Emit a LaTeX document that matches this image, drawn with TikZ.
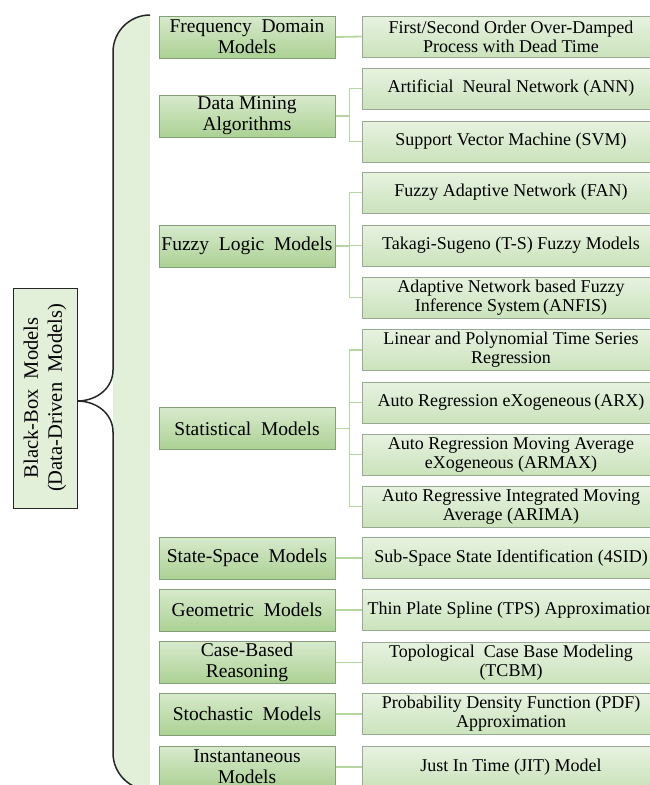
\documentclass[tikz,border=0pt]{standalone}
\usepackage{fontspec}
\setmainfont{Liberation Serif}
\usetikzlibrary{backgrounds}
\begin{document}
\begin{tikzpicture}[x=1pt,y=-1pt,
  catbox/.style={draw=catedge, line width=0.8pt, top color=cattop, bottom color=catbot,
    minimum width=176pt, minimum height=42pt, inner sep=0pt, align=center,
    font=\fontsize{19.5}{21}\selectfont},
  leafbox/.style={draw=leafedge, line width=0.8pt, top color=leaftop, bottom color=leafbot,
    minimum width=298pt, minimum height=41pt, inner sep=0pt, align=center,
    font=\fontsize{18}{19}\selectfont},
  rootbox/.style={draw=rootedge, line width=1pt, fill=bandfill,
    minimum width=220pt, minimum height=64pt, inner sep=0pt, align=center, rotate=90,
    font=\fontsize{20.5}{24}\selectfont},
  link/.style={draw=linkgreen, line width=1.8pt},
  bracepen/.style={draw=rootedge, line width=1.5pt}
]
\definecolor{cattop}{HTML}{D8EACD}
\definecolor{catbot}{HTML}{ABD193}
\definecolor{catedge}{HTML}{859F78}
\definecolor{leaftop}{HTML}{E7F2E0}
\definecolor{leafbot}{HTML}{CBE3BC}
\definecolor{leafedge}{HTML}{98AA92}
\definecolor{bandfill}{HTML}{E2EFD9}
\definecolor{rootedge}{HTML}{262626}
\definecolor{linkgreen}{HTML}{B5D6A0}

\useasboundingbox (0,0) rectangle (650,785);
\clip (0,0) rectangle (650,785);

% shaded band inside the brace
\fill[bandfill] (150,15) .. controls (129.6,15) and (113,31.6) .. (113,52)
  -- (113,753) .. controls (113,773.4) and (129.6,790) .. (150,790) -- cycle;

% curly brace
\draw[bracepen] (150,15) .. controls (129.6,15) and (113,31.6) .. (113,52)
  -- (113,370) .. controls (113,388) and (97,401) .. (77,401)
  .. controls (97,401) and (113,414) .. (113,432)
  -- (113,753) .. controls (113,773.4) and (129.6,790) .. (150,790);

% root
\node[rootbox] (root) at (45,398) {Black-Box~ Models\\(Data-Driven~ Models)};

% categories
\node[catbox] (freq) at (247,37)    {Frequency~ Domain\\Models};
\node[catbox] (dm)   at (247,116)   {Data Mining\\Algorithms};
\node[catbox] (fz)   at (247,246)   {Fuzzy~ Logic~ Models};
\node[catbox] (st)   at (247,428.5) {Statistical~ Models};
\node[catbox] (ss)   at (247,558)   {State-Space~ Models};
\node[catbox] (geo)  at (247,610)   {Geometric~ Models};
\node[catbox] (cbr)  at (247,662.5) {Case-Based\\Reasoning};
\node[catbox] (sto)  at (247,714)   {Stochastic~ Models};
\node[catbox] (ins)  at (247,767)   {Instantaneous\\Models};

% methods
\node[leafbox] (fo)    at (511,36.5)  {First/Second Order Over-Damped\\Process with Dead Time};
\node[leafbox] (ann)   at (511,88.5)  {Artificial~ Neural Network (ANN)};
\node[leafbox] (svm)   at (511,141.5) {Support Vector Machine (SVM)};
\node[leafbox] (fan)   at (511,192.5) {Fuzzy Adaptive Network (FAN)};
\node[leafbox] (ts)    at (511,245.5) {Takagi-Sugeno (T-S) Fuzzy Models};
\node[leafbox] (anfis) at (511,297.5) {Adaptive Network based Fuzzy\\Inference System\,(ANFIS)};
\node[leafbox] (lin)   at (511,350)   {Linear and Polynomial Time Series\\Regression};
\node[leafbox] (arx)   at (511,402.5) {Auto Regression eXogeneous\,(ARX)};
\node[leafbox] (armax) at (511,454.5) {Auto Regression Moving Average\\eXogeneous (ARMAX)};
\node[leafbox] (arima) at (511,506.5) {Auto Regressive Integrated Moving\\Average (ARIMA)};
\node[leafbox] (sid)   at (511,558)   {Sub-Space State Identification (4SID)};
\node[leafbox] (tps)   at (511,610)   {Thin Plate Spline (TPS) Approximation};
\node[leafbox] (tcbm)  at (511,662.5) {Topological~ Case Base Modeling\\(TCBM)};
\node[leafbox] (pdf)   at (511,714)   {Probability Density Function (PDF)\\Approximation};
\node[leafbox] (jit)   at (511,767)   {Just In Time (JIT) Model};

% connectors, kept behind the boxes
\begin{scope}[on background layer]
\draw[link] (freq.east) -- (fo.west);
\foreach \c in {ann,svm} \draw[link] (dm.east) -- ++(14,0) |- (\c.west);
\foreach \c in {fan,ts,anfis} \draw[link] (fz.east) -- ++(14,0) |- (\c.west);
\foreach \c in {lin,arx,armax,arima} \draw[link] (st.east) -- ++(14,0) |- (\c.west);
\draw[link] (ss.east) -- (sid.west);
\draw[link] (geo.east) -- (tps.west);
\draw[link] (cbr.east) -- (tcbm.west);
\draw[link] (sto.east) -- (pdf.west);
\draw[link] (ins.east) -- (jit.west);
\end{scope}
\end{tikzpicture}
\end{document}
